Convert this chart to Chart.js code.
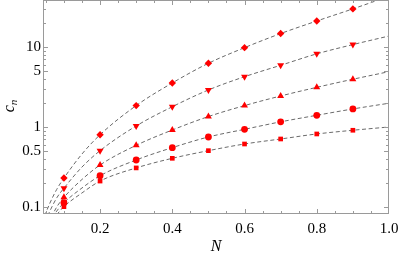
<!DOCTYPE html>
<html><head><meta charset="utf-8">
<script src="https://cdn.jsdelivr.net/npm/chart.js@4/dist/chart.umd.min.js"></script>
<style>html,body{margin:0;padding:0;background:#fff}#wrap{width:400px;height:256px}</style>
</head><body><div id="wrap"><canvas id="c" width="400" height="256"></canvas></div>
<script>
// ---- data ----
const xs = [0.1, 0.2, 0.3, 0.4, 0.5, 0.6, 0.7, 0.8, 0.9];
const diamondVals  = [0.23, 0.80, 1.85, 3.55, 6.25, 9.8, 14.7, 21.1, 29.9];
const downTriVals  = [0.172, 0.506, 1.03, 1.79, 2.90, 4.25, 5.9, 8.2, 10.7];
const upTriVals    = [0.132, 0.335, 0.590, 0.917, 1.35, 1.85, 2.44, 3.13, 3.95];
const circleVals   = [0.113, 0.246, 0.387, 0.552, 0.75, 0.935, 1.16, 1.40, 1.68];
const squareVals   = [0.101, 0.211, 0.308, 0.406, 0.506, 0.613, 0.708, 0.818, 0.91];

const curveX       = [0.04, 0.06, 0.08, 0.1, 0.15, 0.2, 0.3, 0.4, 0.5, 0.6, 0.7, 0.8, 0.9, 1.0];
const curveDiamond = [0.065, 0.109, 0.166, 0.23, 0.46, 0.80, 1.85, 3.55, 6.25, 9.8, 14.7, 21.1, 29.9, 43];
const curveDownTri = [0.055, 0.087, 0.130, 0.172, 0.316, 0.506, 1.03, 1.79, 2.90, 4.25, 5.9, 8.2, 10.7, 13.7];
const curveUpTri   = [0.045, 0.067, 0.100, 0.132, 0.221, 0.335, 0.590, 0.917, 1.35, 1.85, 2.44, 3.13, 3.95, 4.91];
const curveCircle  = [0.045, 0.065, 0.089, 0.113, 0.173, 0.246, 0.387, 0.552, 0.75, 0.935, 1.16, 1.40, 1.68, 1.98];
const curveSquare  = [0.042, 0.060, 0.080, 0.101, 0.150, 0.211, 0.308, 0.406, 0.506, 0.613, 0.708, 0.818, 0.91, 1.0];

const xTicks = [0.2, 0.4, 0.6, 0.8, 1.0];
const xMinorTicks = [0.05,0.1,0.15,0.25,0.3,0.35,0.45,0.5,0.55,0.65,0.7,0.75,0.85,0.9,0.95];
const yTicks = [0.1, 0.5, 1, 5, 10];
const yMinorTicks = [0.2,0.3,0.4,0.6,0.7,0.8,0.9,2,3,4,6,7,8,9,20,30];
const xTitle = 'N';
const yTitleMain = 'c';
const yTitleSub = 'n';

// ---- chart ----
const RED = '#ff0000';
const FRAME = '#9a9a9a';
const FONT = '"Liberation Serif", "DejaVu Serif", serif';
const pts = (x, y) => x.map((v, i) => ({x: v, y: y[i]}));

function markerSet(vals, style, radius, rotation) {
  return {type: 'scatter', data: pts(xs, vals), showLine: false, order: 0,
    pointStyle: style, pointRadius: radius, pointRotation: rotation || 0,
    backgroundColor: RED, borderColor: RED, borderWidth: 0, pointHoverRadius: radius};
}
function curveSet(vals) {
  return {type: 'line', data: pts(curveX, vals), order: 1, showLine: true,
    borderColor: '#6a6a6a', borderWidth: 1, borderDash: [4, 2.6], pointRadius: 0,
    fill: false, cubicInterpolationMode: 'monotone'};
}

const framePlugin = {
  id: 'frame',
  afterDraw(chart) {
    const ctx = chart.ctx, a = chart.chartArea;
    const sx = chart.scales.x, sy = chart.scales.y;
    ctx.save();
    ctx.strokeStyle = FRAME; ctx.lineWidth = 1;
    ctx.strokeRect(Math.round(a.left) + 0.5, Math.round(a.top) + 0.5,
      Math.round(a.right - a.left) - 1, Math.round(a.bottom - a.top) - 1);
    const L = Math.round(a.left) + 0.5, R = Math.round(a.right) - 0.5;
    const T = Math.round(a.top) + 0.5, B = Math.round(a.bottom) - 0.5;
    ctx.beginPath();
    const xt = (v, len) => { const p = Math.round(sx.getPixelForValue(v)) + 0.5;
      if (p < L || p > R) return;
      ctx.moveTo(p, B); ctx.lineTo(p, B - len); ctx.moveTo(p, T); ctx.lineTo(p, T + len); };
    const yt = (v, len) => { const p = Math.round(sy.getPixelForValue(v)) + 0.5;
      if (p < T || p > B) return;
      ctx.moveTo(L, p); ctx.lineTo(L + len, p); ctx.moveTo(R, p); ctx.lineTo(R - len, p); };
    xTicks.forEach(v => xt(v, 4.5)); xMinorTicks.forEach(v => xt(v, 2.5));
    yTicks.forEach(v => yt(v, 4.5)); yMinorTicks.forEach(v => yt(v, 2.5));
    ctx.stroke();
    // axis titles
    ctx.fillStyle = '#000';
    ctx.font = 'italic 16px ' + FONT;
    ctx.textAlign = 'center'; ctx.textBaseline = 'middle';
    ctx.fillText(xTitle, (a.left + a.right) / 2, 247);
    ctx.translate(12, 106);
    ctx.rotate(-Math.PI / 2);
    ctx.textAlign = 'left'; ctx.textBaseline = 'alphabetic';
    ctx.font = 'italic 16px ' + FONT;
    const wc = ctx.measureText(yTitleMain).width;
    ctx.font = 'italic 11px ' + FONT;
    const wn = ctx.measureText(yTitleSub).width;
    const x0 = -(wc + wn) / 2;
    ctx.font = 'italic 16px ' + FONT;
    ctx.fillText(yTitleMain, x0, 2);
    ctx.font = 'italic 11px ' + FONT;
    ctx.fillText(yTitleSub, x0 + wc, 5);
    ctx.restore();
  }
};

new Chart(document.getElementById('c'), {
  data: {datasets: [
    markerSet(diamondVals, 'rectRot', 3.7),
    markerSet(downTriVals, 'triangle', 4, 180),
    markerSet(upTriVals, 'triangle', 4),
    markerSet(circleVals, 'circle', 3.4),
    markerSet(squareVals, 'rect', 3.3),
    curveSet(curveDiamond), curveSet(curveDownTri), curveSet(curveUpTri),
    curveSet(curveCircle), curveSet(curveSquare)
  ]},
  options: {
    responsive: false, animation: false,
    layout: {autoPadding: false, padding: {left: 0, top: 0, right: 11, bottom: 0}},
    plugins: {legend: {display: false}, tooltip: {enabled: false}},
    scales: {
      x: {type: 'linear', min: 0.042, max: 1.0,
        grid: {display: false, drawTicks: false}, border: {display: false},
        afterBuildTicks: s => { s.ticks = xTicks.map(v => ({value: v})); },
        afterFit: s => { s.height = 42; s.paddingLeft = 0; s.paddingRight = 0; },
        ticks: {padding: 6, color: '#000', font: {family: FONT, size: 15},
          maxRotation: 0, callback: v => Number(v).toFixed(1)}},
      y: {type: 'logarithmic', min: 0.0818, max: 38.6,
        grid: {display: false, drawTicks: false}, border: {display: false},
        afterBuildTicks: s => { s.ticks = yTicks.map(v => ({value: v})); },
        afterFit: s => { s.width = 43; s.paddingTop = 0; s.paddingBottom = 0; },
        ticks: {padding: 2, color: '#000', font: {family: FONT, size: 15},
          callback: v => String(v)}}
    }
  },
  plugins: [framePlugin]
});
</script></body></html>
